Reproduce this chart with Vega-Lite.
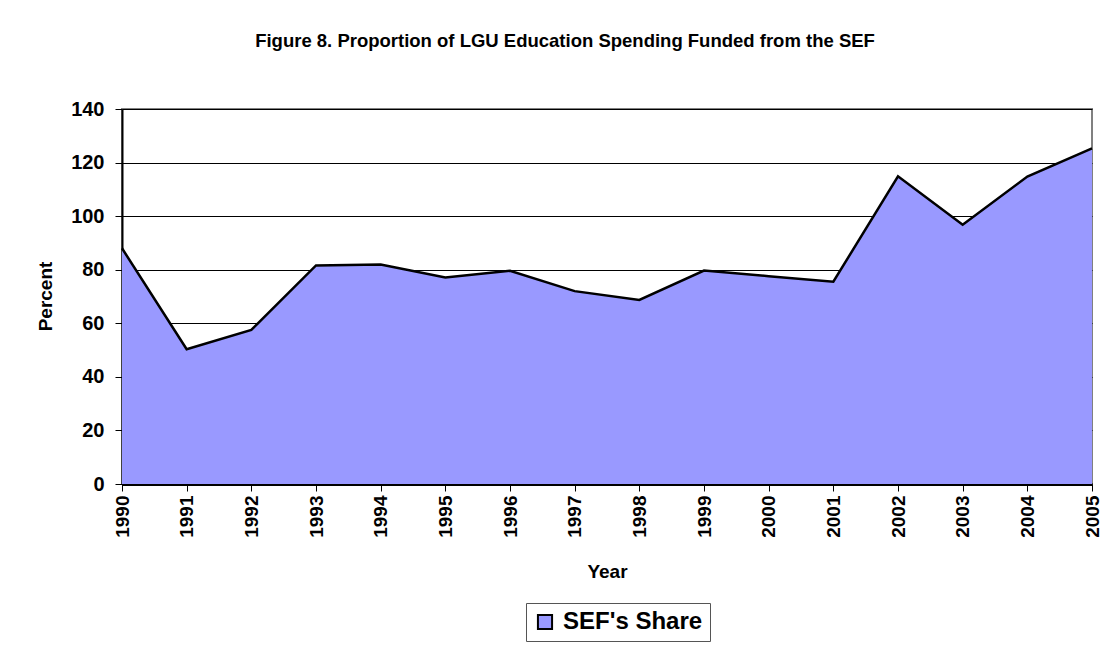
{
  "$schema": "https://vega.github.io/schema/vega-lite/v6.json",
  "autosize": {"type": "none"},
  "width": 970,
  "height": 375,
  "padding": {"left": 122, "top": 109, "right": 15, "bottom": 179},
  "background": "white",
  "title": {
    "text": "Figure 8. Proportion of LGU Education Spending Funded from the SEF",
    "font": "Liberation Sans",
    "fontSize": 18.5,
    "fontWeight": "bold",
    "color": "black",
    "anchor": "middle",
    "baseline": "alphabetic",
    "offset": 34,
    "dx": -42
  },
  "data": {
    "values": [
      {"year": 1990, "share": 88.0, "series": "SEF's Share"},
      {"year": 1991, "share": 50.3, "series": "SEF's Share"},
      {"year": 1992, "share": 57.5, "series": "SEF's Share"},
      {"year": 1993, "share": 81.6, "series": "SEF's Share"},
      {"year": 1994, "share": 81.9, "series": "SEF's Share"},
      {"year": 1995, "share": 77.1, "series": "SEF's Share"},
      {"year": 1996, "share": 79.6, "series": "SEF's Share"},
      {"year": 1997, "share": 72.0, "series": "SEF's Share"},
      {"year": 1998, "share": 68.7, "series": "SEF's Share"},
      {"year": 1999, "share": 79.7, "series": "SEF's Share"},
      {"year": 2000, "share": 77.6, "series": "SEF's Share"},
      {"year": 2001, "share": 75.5, "series": "SEF's Share"},
      {"year": 2002, "share": 114.9, "series": "SEF's Share"},
      {"year": 2003, "share": 96.8, "series": "SEF's Share"},
      {"year": 2004, "share": 114.8, "series": "SEF's Share"},
      {"year": 2005, "share": 125.3, "series": "SEF's Share"}
    ]
  },
  "encoding": {
    "x": {
      "field": "year",
      "type": "quantitative",
      "scale": {"domain": [1990, 2005], "nice": false, "zero": false},
      "axis": {
        "values": [1990, 1991, 1992, 1993, 1994, 1995, 1996, 1997, 1998, 1999, 2000, 2001, 2002, 2003, 2004, 2005],
        "format": "d",
        "labelAngle": -90,
        "labelPadding": 4,
        "labelFont": "Liberation Sans",
        "labelFontSize": 19,
        "labelFontWeight": "bold",
        "labelColor": "black",
        "labelOverlap": false,
        "labelFlush": false,
        "tickSize": 7,
        "tickColor": "black",
        "tickWidth": 1,
        "domainColor": "black",
        "domainWidth": 3,
        "grid": false,
        "title": "Year",
        "titleFont": "Liberation Sans",
        "titleFontSize": 19,
        "titleFontWeight": "bold",
        "titleColor": "black",
        "titleBaseline": "alphabetic",
        "titleX": 485,
        "titleY": 93
      }
    },
    "y": {
      "field": "share",
      "type": "quantitative",
      "scale": {"domain": [0, 140], "nice": false},
      "axis": {
        "values": [0, 20, 40, 60, 80, 100, 120, 140],
        "labelPadding": 11,
        "labelFont": "Liberation Sans",
        "labelFontSize": 20,
        "labelFontWeight": "bold",
        "labelColor": "black",
        "tickSize": 7,
        "tickColor": "black",
        "domainColor": "black",
        "domainWidth": 2,
        "grid": true,
        "gridColor": "black",
        "gridWidth": 1,
        "gridOpacity": 1,
        "title": "Percent",
        "titleFont": "Liberation Sans",
        "titleFontSize": 19,
        "titleFontWeight": "bold",
        "titleColor": "black",
        "titleAngle": -90,
        "titleBaseline": "alphabetic",
        "titleX": -71,
        "titleY": 187
      }
    }
  },
  "layer": [
    {
      "mark": {"type": "area", "opacity": 1},
      "encoding": {
        "color": {
          "field": "series",
          "type": "nominal",
          "scale": {"range": ["#9999FF"]},
          "legend": {
            "title": null,
            "orient": "none",
            "legendX": 404,
            "legendY": 494,
            "symbolType": "square",
            "symbolSize": 200,
            "symbolStrokeColor": "black",
            "symbolStrokeWidth": 2,
            "symbolFillColor": "#9999FF",
            "symbolOpacity": 1,
            "labelFont": "Liberation Sans",
            "labelFontSize": 24,
            "labelFontWeight": "bold",
            "labelColor": "black",
            "labelOffset": 6,
            "strokeColor": "#555555",
            "padding": 7,
            "fillColor": "white"
          }
        }
      }
    },
    {
      "mark": {"type": "line", "color": "black", "strokeWidth": 2.5},
      "encoding": {}
    }
  ],
  "config": {
    "view": {"stroke": "#808080", "strokeWidth": 2},
    "font": "Liberation Sans"
  }
}
